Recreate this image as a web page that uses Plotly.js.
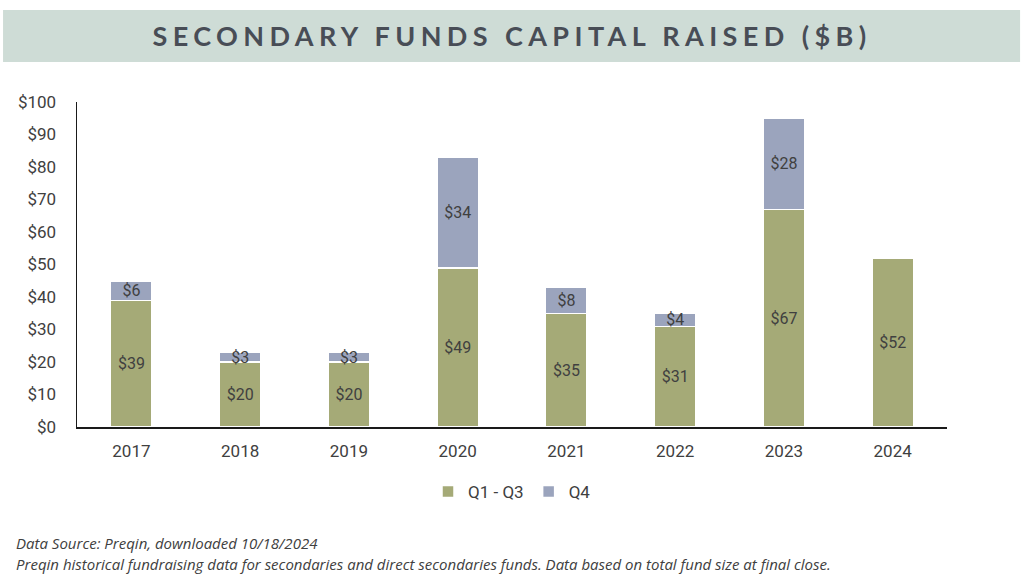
<!DOCTYPE html>
<html>
<head>
<meta charset="utf-8">
<script src="https://cdn.plot.ly/plotly-3.0.1.min.js"></script>
<style>
html,body{margin:0;padding:0;background:#fff;}
#chart{width:1024px;height:576px;}
.gtitle{letter-spacing:5.4px;}
</style>
</head>
<body>
<div id="chart"></div>
<script>
const years = ['2017','2018','2019','2020','2021','2022','2023','2024'];
const q1q3 = [39, 20, 20, 49, 35, 31, 67, 52];
const q4 = [6, 3, 3, 34, 8, 4, 28, null];
const yTicks = [0,10,20,30,40,50,60,70,80,90,100];

const green = '#a5aa77';
const blue = '#9ba4bd';
const txt = '#404040';

const traces = [
  {
    type: 'bar', name: 'Q1 - Q3', x: years, y: q1q3,
    text: q1q3.map(v => '$' + v), textposition: 'inside', insidetextanchor: 'middle',
    constraintext: 'none', textangle: 0,
    textfont: {family: 'Roboto, sans-serif', size: 16, color: txt},
    marker: {color: green, line: {color: '#ffffff', width: 1.5}},
    width: 0.38, hoverinfo: 'skip'
  },
  {
    type: 'bar', name: 'Q4', x: years, y: q4,
    text: q4.map(v => v == null ? '' : '$' + v), textposition: 'inside', insidetextanchor: 'middle',
    constraintext: 'none', textangle: 0,
    textfont: {family: 'Roboto, sans-serif', size: 16, color: txt},
    marker: {color: blue, line: {color: '#ffffff', width: 1.5}},
    width: 0.38, hoverinfo: 'skip'
  }
];

const layout = {
  width: 1024, height: 576,
  margin: {l: 77, r: 77, t: 102, b: 149},
  paper_bgcolor: '#ffffff', plot_bgcolor: '#ffffff',
  barmode: 'stack',
  font: {family: 'Roboto, sans-serif', size: 16, color: txt},
  title: {
    text: 'SECONDARY FUNDS CAPITAL RAISED ($B)',
    font: {family: 'Lato, sans-serif', size: 27, color: '#484d56', weight: 700},
    x: 0.5, xanchor: 'center', y: 0.936, yanchor: 'middle'
  },
  xaxis: {
    showline: true, linecolor: '#1a1a1a', linewidth: 1.5,
    ticks: '', showgrid: false, zeroline: false, ticklabelstandoff: 8,
    tickfont: {family: 'Roboto, sans-serif', size: 17, color: txt}
  },
  yaxis: {
    range: [0, 100], tickvals: yTicks, ticktext: yTicks.map(v => '$' + v),
    showline: true, linecolor: '#1a1a1a', linewidth: 1.5,
    ticks: '', showgrid: false, zeroline: false, ticklabelstandoff: 16,
    tickfont: {family: 'Roboto, sans-serif', size: 17, color: txt}
  },
  showlegend: true,
  legend: {
    orientation: 'h', x: 0.5, xanchor: 'center', y: -0.2, yanchor: 'middle',
    traceorder: 'normal',
    font: {family: 'Roboto, sans-serif', size: 17, color: txt},
    itemwidth: 30
  },
  shapes: [{
    type: 'rect', xref: 'paper', yref: 'paper',
    x0: -0.085, x1: 1.084, y0: 1.123, y1: 1.283,
    fillcolor: '#cedcd6', line: {width: 0}, layer: 'below'
  }],
  annotations: [
    {
      xref: 'paper', yref: 'paper', x: -0.0724, y: -0.357, xanchor: 'left', yanchor: 'middle',
      text: '<i>Data Source: Preqin, downloaded 10/18/2024</i>', showarrow: false, align: 'left',
      font: {family: 'Open Sans, sans-serif', size: 15, color: txt}
    },
    {
      xref: 'paper', yref: 'paper', x: -0.0724, y: -0.4215, xanchor: 'left', yanchor: 'middle',
      text: '<i>Preqin historical fundraising data for secondaries and direct secondaries funds. Data based on total fund size at final close.</i>',
      showarrow: false, align: 'left',
      font: {family: 'Open Sans, sans-serif', size: 15, color: txt}
    }
  ]
};

Plotly.newPlot('chart', traces, layout, {displayModeBar: false, staticPlot: true});
</script>
</body>
</html>
